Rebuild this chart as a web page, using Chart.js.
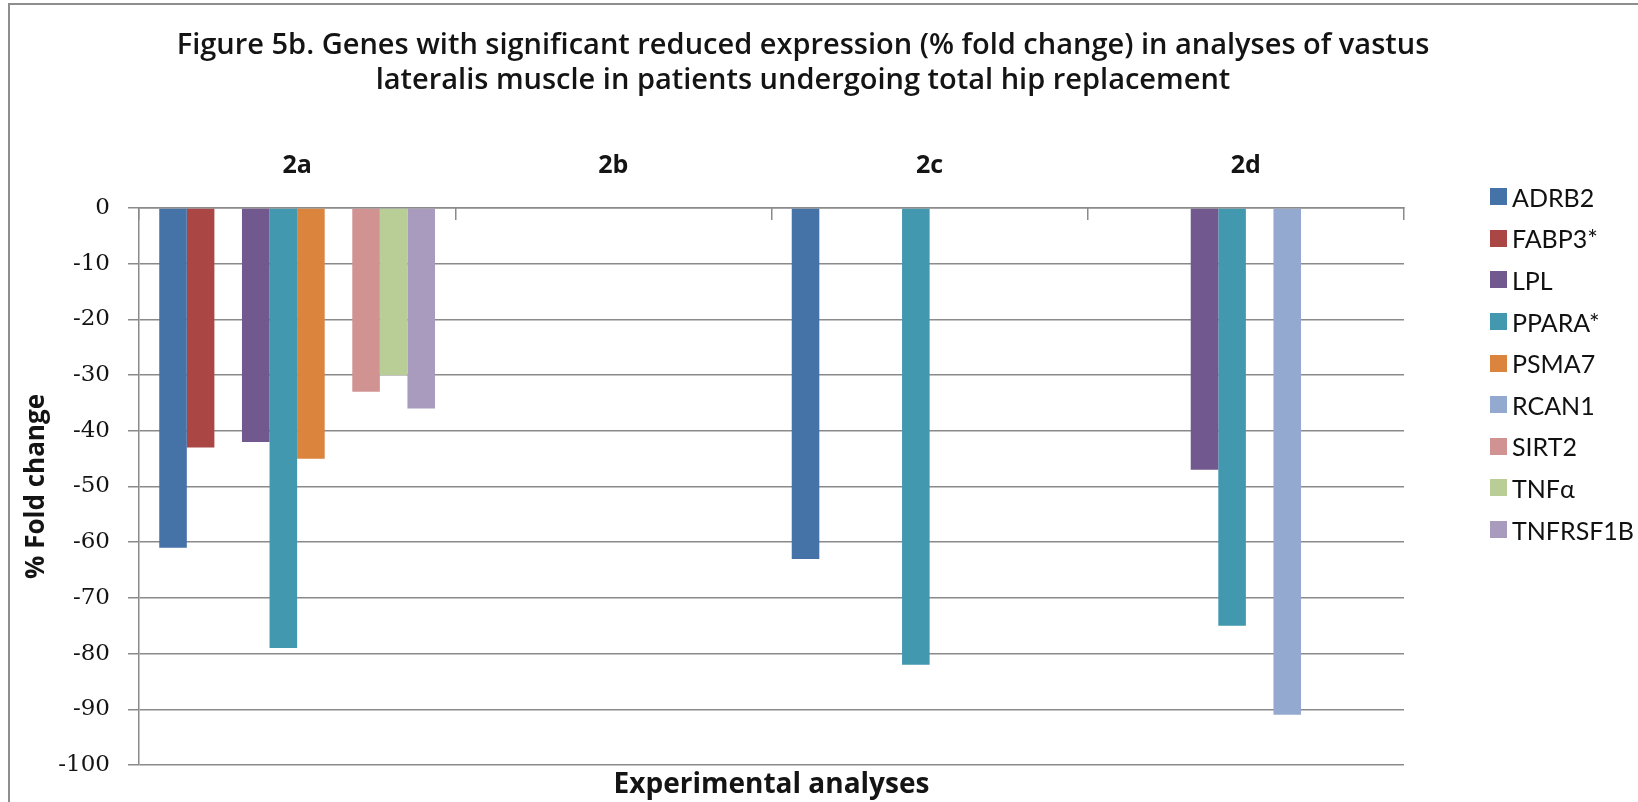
<!DOCTYPE html>
<html>
<head>
<meta charset="utf-8">
<script src="https://cdn.jsdelivr.net/npm/chart.js@4.4.1/dist/chart.umd.min.js"></script>
<style>
  html, body { margin: 0; padding: 0; background: #fff; }
  #wrap { position: relative; width: 1638px; height: 802px; overflow: hidden; }
  #frame { position: absolute; left: 8px; top: 3px; width: 1700px; height: 900px; border: 2px solid #8e8e8e; }
  #chart { position: absolute; left: 0; top: 0; }
  #legend { position: absolute; left: 1490px; top: 176px; font-family: Lato, sans-serif; font-size: 25px; color: #111; }
  .item { height: 41.6px; display: flex; align-items: center; white-space: nowrap; }
  .box { width: 17px; height: 17px; margin-right: 5px; }
</style>
</head>
<body>
<div id="wrap">
  <div id="frame"></div>
  <canvas id="chart" width="1638" height="802"></canvas>
  <div id="legend"></div>
</div>
<script>
const analyses = ['2a', '2b', '2c', '2d'];

// % fold change per gene for each analysis, null = no significant change
const adrb2 = [-61, null, -63, null];
const fabp3 = [-43, null, null, null];
const unnamed = [null, null, null, null]; // empty series slot, not in the legend
const lpl = [-42, null, null, -47];
const ppara = [-79, null, -82, -75];
const psma7 = [-45, null, null, null];
const rcan1 = [null, null, null, -91];
const sirt2 = [-33, null, null, null];
const tnfa = [-30, null, null, null];
const tnfrsf1b = [-36, null, null, null];

const geneNames = ['ADRB2', 'FABP3*', '', 'LPL', 'PPARA*', 'PSMA7', 'RCAN1', 'SIRT2', 'TNF\u03b1', 'TNFRSF1B'];
const geneValues = [adrb2, fabp3, unnamed, lpl, ppara, psma7, rcan1, sirt2, tnfa, tnfrsf1b];
const geneColors = ['#4572A7', '#AA4643', '#89A54E', '#71588F', '#4198AF',
                    '#DB843D', '#93A9CF', '#D19392', '#B9CD96', '#A99BBD'];

const yTicks = [0, -10, -20, -30, -40, -50, -60, -70, -80, -90, -100];

const gridGray = '#8a8a8a';
const ink = '#141414';

new Chart(document.getElementById('chart').getContext('2d'), {
    type: 'bar',
    data: {
        labels: analyses,
        datasets: geneNames.map((name, i) => ({
            label: name,
            data: geneValues[i],
            backgroundColor: geneColors[i],
            borderWidth: 0,
            categoryPercentage: 0.872,
            barPercentage: 1.0
        }))
    },
    options: {
        responsive: false,
        animation: false,
        layout: { padding: { top: 0, left: 0, right: 32, bottom: 0 } },
        plugins: {
            legend: { display: false },
            tooltip: { enabled: false },
            title: {
                display: true,
                text: ['Figure 5b. Genes with significant reduced expression (% fold change) in analyses of vastus',
                       'lateralis muscle in patients undergoing total hip replacement'],
                font: { family: 'Open Sans', size: 29, weight: '600', lineHeight: 35 / 29 },
                color: ink,
                padding: { top: 28, bottom: 14 }
            },
            subtitle: {
                display: true,
                position: 'bottom',
                fullSize: false,
                text: 'Experimental analyses',
                font: { family: 'Open Sans', size: 28, weight: 'bold', lineHeight: 32 / 28 },
                color: ink,
                padding: { top: 4, bottom: 1 }
            }
        },
        scales: {
            x: {
                position: 'top',
                grid: { offset: true, drawOnChartArea: false, tickLength: -12, color: gridGray, lineWidth: 1.5 },
                border: { display: true, color: gridGray, width: 1.5 },
                ticks: { font: { family: 'Open Sans', size: 25, weight: 'bold', lineHeight: 1.2 }, color: ink, padding: 39 }
            },
            y: {
                min: -100,
                max: 0,
                afterBuildTicks: (scale) => { scale.ticks = yTicks.map(v => ({ value: v })); },
                ticks: { padding: 18, font: { family: 'DejaVu Serif', size: 23 }, color: ink },
                grid: { color: gridGray, lineWidth: 1.5, tickLength: 11 },
                border: { display: true, color: gridGray, width: 1.5 },
                title: {
                    display: true,
                    text: '% Fold change',
                    font: { family: 'Open Sans', size: 26, weight: 'bold', lineHeight: 30 / 26 },
                    color: ink,
                    padding: { top: 22, bottom: 0 }
                },
                afterFit: (scale) => { scale.width = 139; }
            },
            // empty right-hand axis keeps room for the legend column
            yRight: {
                type: 'linear',
                position: 'right',
                grid: { display: false },
                border: { display: false },
                ticks: { display: false },
                afterFit: (scale) => { scale.width = 202; }
            }
        }
    }
});

// legend, skipping the unnamed series
const legend = document.getElementById('legend');
geneNames.forEach((name, i) => {
    if (!name) return;
    const item = document.createElement('div');
    item.className = 'item';
    const box = document.createElement('span');
    box.className = 'box';
    box.style.background = geneColors[i];
    item.appendChild(box);
    item.appendChild(document.createTextNode(name));
    legend.appendChild(item);
});
</script>
</body>
</html>
